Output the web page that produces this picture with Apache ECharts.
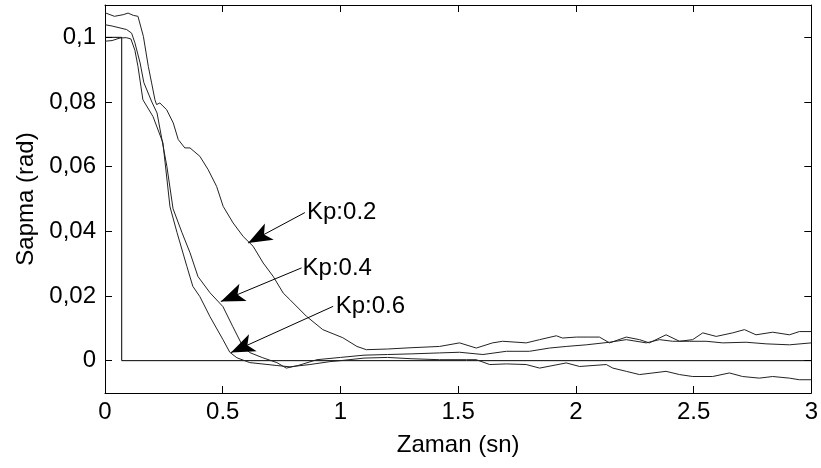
<!DOCTYPE html>
<html>
<head>
<meta charset="utf-8">
<script src="https://cdn.jsdelivr.net/npm/echarts@6/dist/echarts.min.js"></script>
<style>
  html, body { margin: 0; padding: 0; background: #fff; }
  #chart { width: 821px; height: 468px; }
</style>
</head>
<body>
<div id="chart"></div>
<script>
// zaman (sn) / sapma (rad) pairs
let refStep = [[0, 0.1], [0.071, 0.1], [0.071, 0], [3, 0]];

let kp02 = [
  [0, 0.1076], [0.007, 0.1073], [0.04, 0.1065], [0.077, 0.107], [0.098, 0.1075], [0.12, 0.1068],
  [0.14, 0.1065], [0.163, 0.1003], [0.184, 0.091], [0.198, 0.0859], [0.212, 0.0807], [0.219, 0.0792],
  [0.233, 0.0797], [0.262, 0.0776], [0.29, 0.0735], [0.311, 0.0684], [0.339, 0.0658], [0.361, 0.0658],
  [0.403, 0.0632], [0.438, 0.0591], [0.474, 0.0539], [0.502, 0.0477], [0.544, 0.0426], [0.587, 0.0384],
  [0.612, 0.0366], [0.629, 0.0354], [0.672, 0.0302], [0.714, 0.0261], [0.757, 0.0209], [0.785, 0.0189],
  [0.856, 0.0137], [0.925, 0.0096], [1.01, 0.0071], [1.07, 0.0044], [1.11, 0.0034], [1.2, 0.0036],
  [1.3, 0.004], [1.421, 0.0044], [1.506, 0.0055], [1.577, 0.0039], [1.646, 0.0055], [1.689, 0.006],
  [1.789, 0.0055], [1.846, 0.0065], [1.917, 0.0077], [1.943, 0.007], [2.002, 0.0073], [2.1, 0.0073],
  [2.143, 0.0055], [2.214, 0.0073], [2.27, 0.0065], [2.312, 0.0055], [2.383, 0.008], [2.44, 0.006],
  [2.496, 0.0065], [2.539, 0.0086], [2.596, 0.0075], [2.666, 0.0086], [2.716, 0.0096], [2.765, 0.008],
  [2.836, 0.0088], [2.907, 0.008], [2.949, 0.009], [3, 0.009]
];

let kp04 = [
  [0, 0.1039], [0.03, 0.1035], [0.064, 0.1029], [0.092, 0.1024], [0.113, 0.1013], [0.127, 0.0983],
  [0.149, 0.0921], [0.165, 0.086], [0.199, 0.08], [0.221, 0.0766], [0.263, 0.06], [0.289, 0.047],
  [0.327, 0.0396], [0.361, 0.0334], [0.395, 0.026], [0.446, 0.021], [0.501, 0.0167], [0.543, 0.0105],
  [0.586, 0.0043], [0.615, 0.0025], [0.67, 0.0009], [0.73, -0.0006], [0.77, -0.0023], [0.82, -0.0015],
  [0.9, 0.0003], [1.0, 0.001], [1.1, 0.0017], [1.2, 0.0019], [1.3, 0.0021], [1.421, 0.0024],
  [1.506, 0.0026], [1.605, 0.0019], [1.705, 0.0029], [1.803, 0.0029], [1.888, 0.0039], [1.959, 0.0044],
  [2.044, 0.0049], [2.143, 0.0057], [2.214, 0.0065], [2.299, 0.0055], [2.355, 0.0065], [2.411, 0.006],
  [2.482, 0.006], [2.553, 0.006], [2.624, 0.0055], [2.723, 0.0057], [2.808, 0.0052], [2.907, 0.0049],
  [3, 0.0055]
];

let kp06 = [
  [0, 0.0988], [0.03, 0.099], [0.064, 0.0998], [0.09, 0.0999], [0.11, 0.0995], [0.127, 0.096],
  [0.14, 0.091], [0.161, 0.0807], [0.204, 0.0755], [0.246, 0.0674], [0.276, 0.0476], [0.306, 0.0396],
  [0.348, 0.0291], [0.373, 0.023], [0.403, 0.0198], [0.446, 0.0136], [0.501, 0.0065], [0.53, 0.0026],
  [0.56, 0.0009], [0.615, -0.0006], [0.73, -0.0015], [0.785, -0.0019], [0.87, -0.0012], [0.955, -0.0003],
  [1.0, 0], [1.1, 0.0008], [1.2, 0.001], [1.3, 0.0006], [1.421, 0.0003], [1.535, 0.0003],
  [1.577, 0.0003], [1.634, -0.0012], [1.705, -0.001], [1.789, -0.0012], [1.846, -0.0023], [1.959, -0.0007],
  [2.016, -0.0018], [2.129, -0.0012], [2.157, -0.0023], [2.214, -0.0033], [2.27, -0.0043], [2.327, -0.0038],
  [2.383, -0.0033], [2.44, -0.0043], [2.496, -0.0049], [2.581, -0.0049], [2.652, -0.0038], [2.708, -0.0049],
  [2.779, -0.0054], [2.836, -0.0049], [2.907, -0.0054], [2.949, -0.0059], [3, -0.0059]
];

// annotation text anchors and arrows (start -> tip)
let noteNames = ['Kp:0.2', 'Kp:0.4', 'Kp:0.6'];
let notePos = [[0.858, 0.0458], [0.839, 0.0286], [0.98, 0.0167]];
let arrowFrom = [[0.849, 0.0458], [0.835, 0.0287], [0.969, 0.0168]];
let arrowTo = [[0.608, 0.0364], [0.492, 0.0183], [0.535, 0.0025]];

let xTicks = [0, 0.5, 1, 1.5, 2, 2.5, 3];
let yTicks = [0, 0.02, 0.04, 0.06, 0.08, 0.1];

let font = '"Liberation Sans", Arial, sans-serif';
let chart = echarts.init(document.getElementById('chart'));

let curve = data => ({
  type: 'line',
  data: data,
  showSymbol: false,
  symbol: 'none',
  animation: false,
  lineStyle: { color: '#222', width: 1 },
  z: 3
});

chart.setOption({
  backgroundColor: '#fff',
  animation: false,
  grid: { left: 105, right: 9, top: 5, bottom: 75, containLabel: false },
  xAxis: [
    {
      type: 'value', min: 0, max: 3, interval: 0.5, position: 'bottom',
      name: 'Zaman (sn)', nameLocation: 'middle', nameGap: 40,
      nameTextStyle: { color: '#000', fontSize: 24, fontFamily: font },
      axisLine: { show: true, onZero: false, lineStyle: { color: '#000', width: 1 } },
      axisTick: { show: true, inside: true, length: 7, lineStyle: { color: '#000' } },
      axisLabel: { color: '#000', fontSize: 24, fontFamily: font, margin: 7, showMinLabel: true, showMaxLabel: true,
        formatter: v => String(v) },
      splitLine: { show: false }
    },
    {
      type: 'value', min: 0, max: 3, interval: 0.5, position: 'top',
      axisLine: { show: true, onZero: false, lineStyle: { color: '#000', width: 1 } },
      axisTick: { show: true, inside: true, length: 7, lineStyle: { color: '#000' } },
      axisLabel: { show: false },
      splitLine: { show: false }
    }
  ],
  yAxis: [
    {
      type: 'value', min: -0.01, max: 0.11, position: 'left',
      name: 'Sapma (rad)', nameLocation: 'middle', nameGap: 66, nameRotate: 90,
      nameTextStyle: { color: '#000', fontSize: 24, fontFamily: font },
      axisLine: { show: true, onZero: false, lineStyle: { color: '#000', width: 1 } },
      axisTick: { show: true, inside: true, length: 7, customValues: yTicks, lineStyle: { color: '#000' } },
      axisLabel: { color: '#000', fontSize: 24, fontFamily: font, margin: 9, customValues: yTicks,
        formatter: v => (v === 0 ? '0' : String(v).replace('.', ',')) },
      splitLine: { show: false }
    },
    {
      type: 'value', min: -0.01, max: 0.11, position: 'right',
      axisLine: { show: true, onZero: false, lineStyle: { color: '#000', width: 1 } },
      axisTick: { show: true, inside: true, length: 7, customValues: yTicks, lineStyle: { color: '#000' } },
      axisLabel: { show: false },
      splitLine: { show: false }
    }
  ],
  series: [
    {
      type: 'line',
      data: refStep,
      showSymbol: false,
      symbol: 'none',
      lineStyle: { color: '#000', width: 1 },
      z: 2
    },
    curve(kp02),
    curve(kp04),
    curve(kp06),
    {
      type: 'scatter',
      symbolSize: 0,
      z: 5,
      itemStyle: { opacity: 1, color: '#000' },
      data: notePos.map((p, i) => ({ value: p, name: noteNames[i] })),
      label: {
        show: true, position: 'right', distance: 0, opacity: 1,
        formatter: p => p.name,
        color: '#000', fontSize: 24, fontFamily: font
      },
      markLine: {
        silent: true,
        animation: false,
        symbol: ['none', 'arrow'],
        symbolSize: [14, 24],
        lineStyle: { color: '#000', width: 1, type: 'solid', opacity: 1 },
        itemStyle: { color: '#000' },
        label: { show: false },
        data: arrowFrom.map((p, i) => [{ coord: p }, { coord: arrowTo[i] }])
      }
    }
  ]
});
</script>
</body>
</html>
